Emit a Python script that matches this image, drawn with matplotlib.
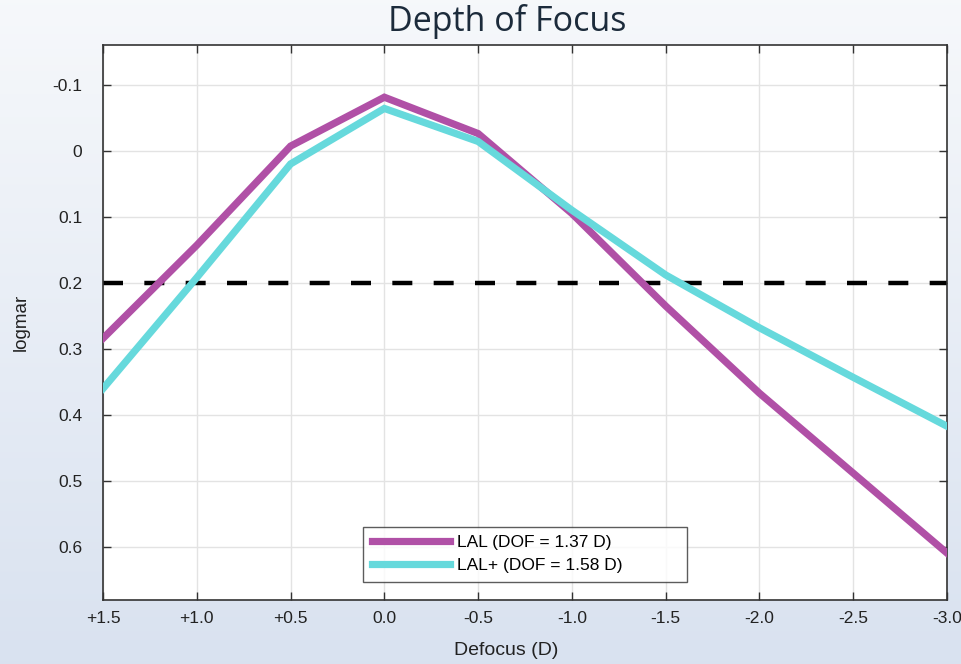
import numpy as np
import matplotlib.pyplot as plt

# defocus (D) and logMAR values
defocus = [1.5, 1.0, 0.5, 0.0, -0.5, -1.0, -1.5, -2.0, -2.5, -3.0]
lal = [0.284, 0.143, -0.007, -0.081, -0.026, 0.095, 0.235, 0.367, 0.488, 0.609]
lal_plus = [0.36, 0.192, 0.02, -0.064, -0.014, 0.09, 0.188, 0.268, 0.343, 0.417]
threshold = 0.2

xticks = [1.5, 1.0, 0.5, 0.0, -0.5, -1.0, -1.5, -2.0, -2.5, -3.0]
xticklabels = ['+1.5', '+1.0', '+0.5', '0.0', '-0.5', '-1.0', '-1.5', '-2.0', '-2.5', '-3.0']
yticks = [-0.1, 0.0, 0.1, 0.2, 0.3, 0.4, 0.5, 0.6]
yticklabels = ['-0.1', '0', '0.1', '0.2', '0.3', '0.4', '0.5', '0.6']

plt.rcParams['font.family'] = ['Liberation Sans', 'DejaVu Sans']

fig = plt.figure(figsize=(9.62, 6.64), dpi=100)

# background gradient
bg = fig.add_axes([0, 0, 1, 1], zorder=-10)
top_c = np.array([0.965, 0.973, 0.984])
bot_c = np.array([0.851, 0.886, 0.941])
t = np.linspace(0, 1, 256)[:, None]
grad = top_c * (1 - t) + bot_c * t
bg.imshow(grad[:, None, :], aspect='auto', extent=[0, 1, 0, 1])
bg.axis('off')

ax = fig.add_axes([0.1071, 0.0964, 0.8773, 0.8358])
ax.set_facecolor('white')

ax.grid(True, color='#e3e3e3', linewidth=1.0, zorder=0)
ax.set_axisbelow(True)

ax.axhline(threshold, color='black', linewidth=3.2, dashes=(4.5, 4.8), zorder=2)
ax.plot(defocus, lal, color='#b050a6', linewidth=5.2, label='LAL (DOF = 1.37 D)', zorder=3,
        solid_joinstyle='miter')
ax.plot(defocus, lal_plus, color='#66d9dc', linewidth=5.2, label='LAL+ (DOF = 1.58 D)', zorder=3,
        solid_joinstyle='miter')

ax.set_xlim(1.5, -3.0)
ax.set_ylim(0.68, -0.16)
ax.set_xticks(xticks)
ax.set_xticklabels(xticklabels)
ax.set_yticks(yticks)
ax.set_yticklabels(yticklabels)

ax.tick_params(direction='in', length=6, width=1, color='#333333', top=True, right=True,
               labelsize=12.5, labelcolor='#222222')
ax.tick_params(axis='y', pad=15)
ax.tick_params(axis='x', pad=8)
for s in ax.spines.values():
    s.set_color('#333333')
    s.set_linewidth(1.2)

ax.set_xlabel('Defocus (D)', fontsize=14, color='#222222', labelpad=9)
ax.xaxis.set_label_coords(0.4775, -0.075)
ax.set_ylabel('logmar', fontsize=13.5, color='#222222', labelpad=16)

fig.text(0.527, 0.967, 'Depth of Focus', ha='center', va='center', fontsize=24.5,
         family=['Open Sans', 'DejaVu Sans'], color='#1c2b3b')

leg = ax.legend(loc='lower left', bbox_to_anchor=(0.308, 0.0324, 0.384, 0.1), mode='expand',
                fontsize=12.5, frameon=True, fancybox=False, edgecolor='#333333',
                handlelength=4.5, handletextpad=0.4, borderpad=0.5, labelspacing=0.45,
                borderaxespad=0)
leg.get_frame().set_linewidth(1.0)

fig.savefig('out.png', dpi=100)
